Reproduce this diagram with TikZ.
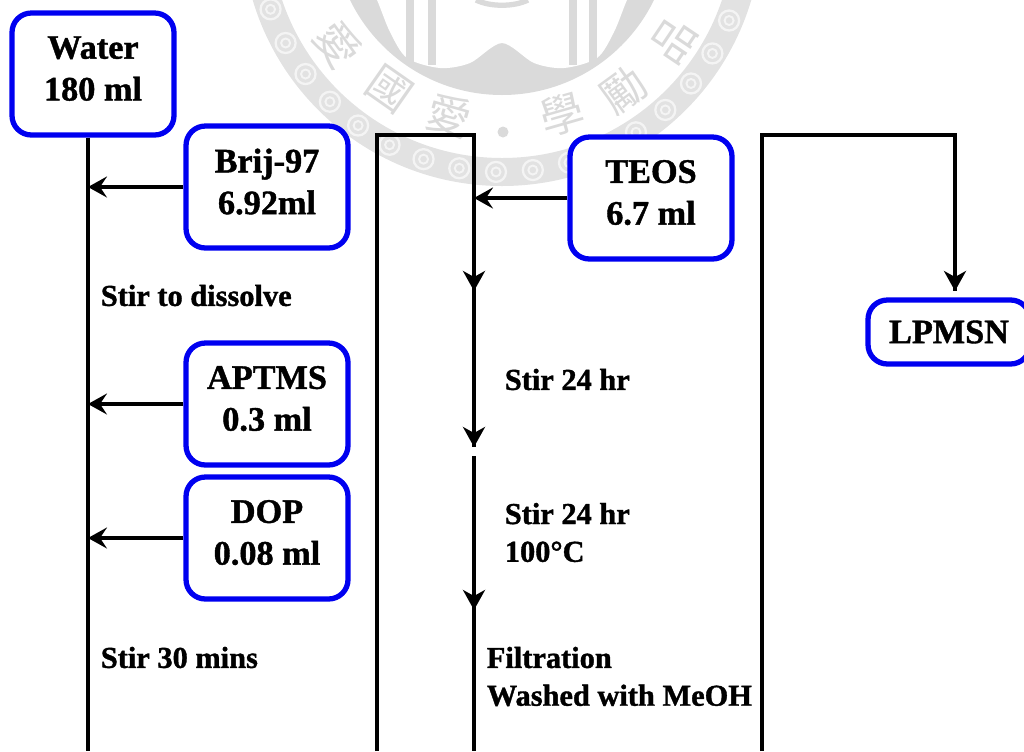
\documentclass[tikz,border=0pt]{standalone}
\usepackage{fontspec}
\setmainfont[BoldFeatures={FakeBold=1.2}]{Liberation Serif}
\newfontfamily\sealfont{Noto Sans CJK TC}
\usetikzlibrary{arrows.meta}
\definecolor{BoxBlue}{HTML}{0000F0}
\definecolor{SealGray}{HTML}{DADADA}
\definecolor{SealRing}{HTML}{E2E2E2}
\definecolor{SealSpiral}{HTML}{F4F4F4}
\newcommand{\liftline}{\\[-17.4pt]\mbox{}}

\begin{document}
\begin{tikzpicture}[
    x=0.02cm,y=-0.02cm,
    stock/.style={draw=BoxBlue, line width=3pt, fill=white, rounded corners=11pt,
      minimum width=3.24cm, minimum height=2.44cm, inner sep=0pt, align=center,
      font=\fontsize{19.5}{23.8}\selectfont\bfseries},
    note/.style={anchor=west, inner sep=0pt, align=left,
      font=\fontsize{17.3}{21.5}\selectfont\bfseries},
    flow/.style={line width=2.8pt, draw=black},
    feed/.style={->, >={Stealth[length=0.38cm,width=0.42cm,inset=0.14cm]}, line width=2.4pt},
    down/.style={->, >={Stealth[length=0.4cm,width=0.44cm,inset=0.12cm]}, line width=2.5pt},
    sealchar/.style={text=SealGray, inner sep=0pt, font=\sealfont\fontsize{25}{25}\selectfont}
  ]
    \useasboundingbox (0,0) rectangle (1024,751);
    \clip (0,0) rectangle (1024,751);

    \coordinate (seal) at (502,-74);
    \fill[SealRing, even odd rule] (seal) circle (260) (seal) circle (232);
    \foreach \a in {14,22.6,...,170} {
      \draw[SealSpiral, line width=1.3pt] (seal) ++(\a:246) circle (10);
      \draw[SealSpiral, line width=1.1pt] (seal) ++(\a:246) circle (4.5);
    }
    \fill[SealGray] (seal) circle (169);
    \fill[white] plot[smooth] coordinates {(366,-20) (377,0) (390,32) (407,58) (440,68)
      (470,63) (502,43) (534,63) (564,68) (597,58) (614,32) (627,0) (638,-20)} -- cycle;
    \foreach \x in {410,432,573,593} {
      \draw[SealGray, line width=4pt] (\x,-5) -- (\x,65);
    }
    \draw[SealGray, line width=3pt] (476,0) .. controls (490,7) and (514,7) .. (528,0);
    \fill[SealGray] (503,132) circle (5.5);

    \node[sealchar, rotate=-54] (sealA) at (338,44) {愛};
    \node[sealchar, rotate=-35] (sealB) at (389,89) {國};
    \node[sealchar, rotate=-16] (sealC) at (449,116) {愛};
    \node[sealchar, rotate=16] (sealD) at (562,115) {學};
    \node[sealchar, rotate=36] (sealE) at (624,90) {勵};
    \node[sealchar, rotate=56] (sealF) at (674,40) {品};

    \node[stock] (water) at (93,74) {Water\\180 ml\liftline};
    \node[stock] (brij) at (267,187) {Brij-97\\6.92ml\liftline};
    \node[stock] (aptms) at (267,404) {APTMS\\0.3 ml\liftline};
    \node[stock] (dop) at (267,538) {DOP\\0.08 ml\liftline};
    \node[stock] (teos) at (651,198) {TEOS\\6.7 ml\liftline};
    \node[stock, minimum height=1.28cm] (lpmsn) at (949,332) {LPMSN};

    \node[note] (dissolve) at (100.5,295.5) {Stir to dissolve};
    \node[note] (stirA) at (100.5,657.5) {Stir 30 mins};
    \node[note] (stirB) at (504.5,379.5) {Stir 24 hr};
    \node[note] (stirC) at (504.5,532.5) {Stir 24 hr\\100°C};
    \node[note] (filter) at (486.5,676.5) {Filtration\\Washed with MeOH};

    \coordinate (endA) at (88,751);
    \coordinate (endB) at (377,751);
    \coordinate (topB) at (377,135);
    \coordinate (topC) at (474,135);
    \coordinate (stepA) at (474,291);
    \coordinate (stepB) at (474,447);
    \coordinate (stepC) at (474,456);
    \coordinate (stepD) at (474,610);
    \coordinate (endC) at (474,751);
    \coordinate (endD) at (762,751);
    \coordinate (topD) at (762,135);
    \coordinate (topE) at (955,135);
    \coordinate (stepE) at (955,291);

    \draw[flow] (water.south -| endA) -- (endA);
    \draw[flow, line join=miter] (endB) -- (topB) -- (topC) -- (stepA);
    \draw[flow] (stepC) -- (endC);
    \draw[flow] (stepA) -- (stepB);
    \draw[flow, line join=miter] (endD) -- (topD) -- (topE) -- (stepE);

    \draw[feed] (brij.west) -- (brij.west -| endA);
    \draw[feed] (aptms.west) -- (aptms.west -| endA);
    \draw[feed] (dop.west) -- (dop.west -| endA);
    \draw[feed] (teos.west) -- (teos.west -| topC);

    \draw[down] (topC |- 0,250) -- (stepA);
    \draw[down] (topC |- 0,400) -- (stepB);
    \draw[down] (topC |- 0,560) -- (stepD);
    \draw[down] (topE |- 0,250) -- (stepE);
  \end{tikzpicture}
\end{document}
